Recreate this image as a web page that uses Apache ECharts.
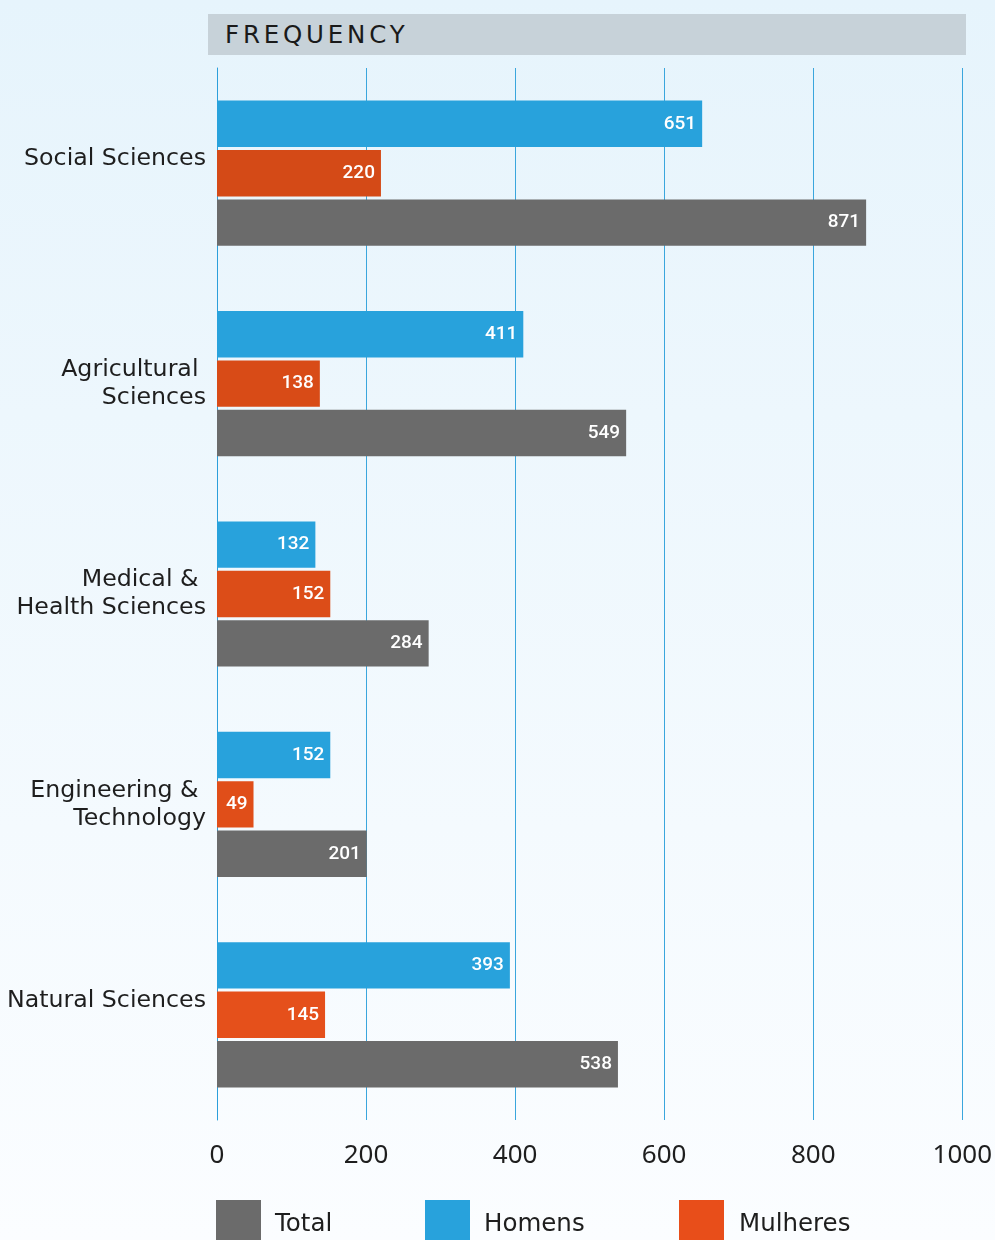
<!DOCTYPE html>
<html><head><meta charset="utf-8">
<script src="https://cdn.jsdelivr.net/npm/echarts@6/dist/echarts.min.js"></script>
<style>
html,body{margin:0;padding:0;}
#wrap{position:relative;width:995px;height:1240px;}
#chart{position:absolute;left:0;top:0;width:995px;height:1240px;}
#title{position:absolute;left:208px;top:14px;width:758px;height:41px;background:#C7D2D9;
 font-family:"DejaVu Sans",sans-serif;font-size:24.5px;letter-spacing:3.8px;color:#1a1a1a;
 line-height:41px;padding-left:17px;box-sizing:border-box;}
</style></head>
<body><div id="wrap"><div id="chart"></div><div id="title">FREQUENCY</div></div>
<script>
const categories = ['Social Sciences\n', 'Agricultural \nSciences', 'Medical & \nHealth Sciences', 'Engineering & \nTechnology', 'Natural Sciences\n'];
const homens   = [651, 411, 132, 152, 393];
const mulheres = [220, 138, 152, 49, 145];
const total    = [871, 549, 284, 201, 538];
const xTicks = [0, 200, 400, 600, 800, 1000];

const chart = echarts.init(document.getElementById('chart'));
const font = '"DejaVu Sans", sans-serif';
const labelStyle = {show:true, position:'insideRight', distance:6, color:'#fff', fontSize:19, fontWeight:500, fontFamily:'Roboto'};
const orangeShades = ['#D44A17','#D84B17','#DC4D18','#E04E19','#E5501B'];
const legendText = (pl) => ({fontSize:24.5, color:'#1e1e1e', fontFamily:font,
  rich:{t:{fontSize:24.5, color:'#1e1e1e', fontFamily:font, padding:[10,0,0,pl]}}});
const legendBase = {top:1200, itemWidth:45, itemHeight:40, icon:'rect', padding:0, formatter:'{t|{name}}'};
chart.setOption({
  backgroundColor: {type:'linear', x:0, y:0, x2:0, y2:1, colorStops:[{offset:0,color:'#E6F4FC'},{offset:1,color:'#FBFDFF'}]},
  animation:false,
  grid:{left:217, right:32, top:68, bottom:120, containLabel:false},
  xAxis:{type:'value', min:xTicks[0], max:xTicks[xTicks.length-1], interval:200,
    axisLine:{show:false}, axisTick:{show:false},
    splitLine:{show:true, lineStyle:{color:'#3AA6DD', width:1}},
    axisLabel:{fontSize:26, color:'#1e1e1e', fontFamily:'"Noto Sans", sans-serif', margin:23, formatter:(v)=>String(v)}},
  yAxis:{type:'category', data:categories, inverse:true,
    axisLine:{show:true, lineStyle:{color:'#2C9FDB', width:1}}, axisTick:{show:false},
    axisLabel:{fontSize:23.7, color:'#1e1e1e', fontFamily:font, margin:11, lineHeight:28, align:'right'}},
  legend:[
    Object.assign({left:216, data:['Total'], textStyle:legendText(9)}, legendBase),
    Object.assign({left:425, data:['Homens'], textStyle:legendText(9)}, legendBase),
    Object.assign({left:679, data:['Mulheres'], textStyle:legendText(10)}, legendBase)
  ],
  series:[
    {name:'Homens', type:'bar', data:homens, itemStyle:{color:'#28A2DC'}, label:labelStyle, barGap:'6.5%', barCategoryGap:'31%'},
    {name:'Mulheres', type:'bar', data:mulheres.map((v,i)=>({value:v, itemStyle:{color:orangeShades[i]}})), itemStyle:{color:'#E84E1A'}, label:labelStyle, barGap:'6.5%', barCategoryGap:'31%'},
    {name:'Total', type:'bar', data:total, itemStyle:{color:'#6B6B6B'}, label:labelStyle, barGap:'6.5%', barCategoryGap:'31%'}
  ]
});
</script></body></html>
